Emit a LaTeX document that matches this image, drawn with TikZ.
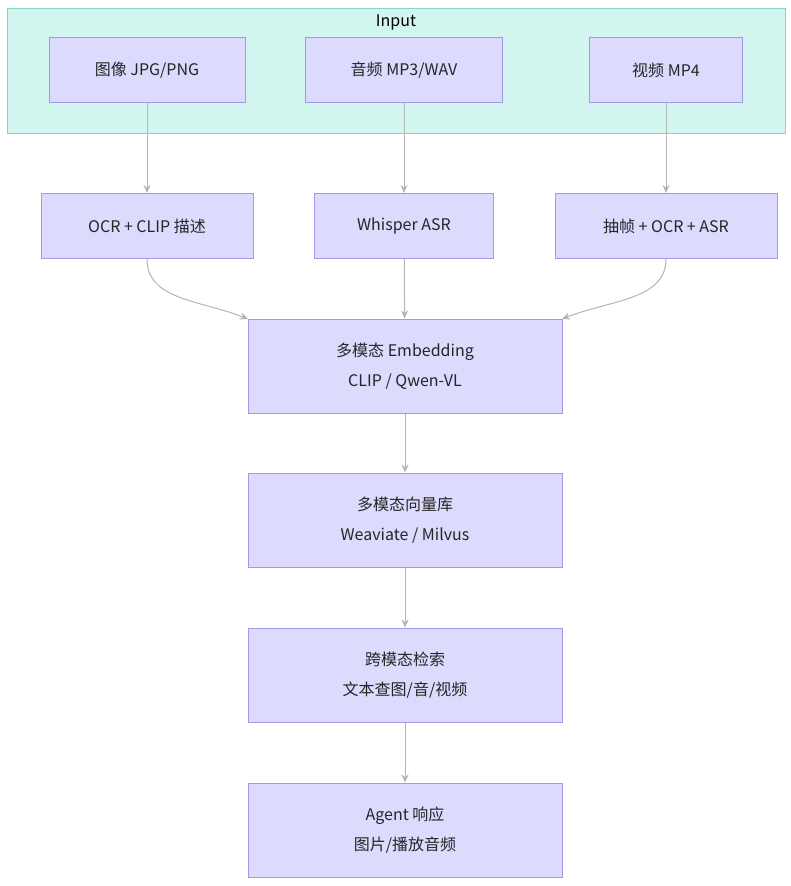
\documentclass[tikz,border=0pt]{standalone}
\usepackage{fontspec}
\setmainfont{Noto Sans CJK SC}
\usetikzlibrary{arrows.meta}
\definecolor{nfill}{HTML}{DCDAFD}
\definecolor{nline}{HTML}{A598EA}
\definecolor{gfill}{HTML}{D2F5EF}
\definecolor{gline}{HTML}{7FD8C6}
\definecolor{edge}{HTML}{B5B5B5}
\begin{document}
\begin{tikzpicture}[x=1pt,y=-1pt,
 box/.style={draw=nline,fill=nfill,line width=1pt,inner sep=0pt,align=center,font=\fontsize{16}{30}\selectfont,text=black!85},
 con/.style={draw=edge,line width=1pt,-{Stealth[length=8pt,width=7pt]}}]
\useasboundingbox (0,0) rectangle (791,886);
\fill[white] (0,0) rectangle (791,886);
\node[draw=gline,fill=gfill,line width=1pt,minimum width=778,minimum height=125,anchor=north west] (grp) at (7,8) {};
\node[font=\fontsize{16}{18}\selectfont] (lbl) at (396,22) {Input};
\node[box,minimum width=196,minimum height=65] (img) at (147,70) {图像 JPG/PNG};
\node[box,minimum width=197,minimum height=65] (aud) at (404,70) {音频 MP3/WAV};
\node[box,minimum width=153,minimum height=65] (vid) at (666,70) {视频 MP4};
\node[box,minimum width=212,minimum height=65] (ocr) at (147,226) {OCR + CLIP 描述};
\node[box,minimum width=179,minimum height=65] (wsp) at (404,226) {Whisper ASR};
\node[box,minimum width=222,minimum height=65] (frm) at (666,226) {抽帧 + OCR + ASR};
\node[box,minimum width=314,minimum height=94] (emb) at (405,366) {多模态 Embedding\\CLIP / Qwen-VL};
\node[box,minimum width=314,minimum height=94] (db) at (405,520) {多模态向量库\\Weaviate / Milvus};
\node[box,minimum width=314,minimum height=94] (srch) at (405,675) {跨模态检索\\文本查图/音/视频};
\node[box,minimum width=314,minimum height=94] (agt) at (405,830) {Agent 响应\\图片/播放音频};
\draw[con] (img) -- (ocr);
\draw[con] (aud) -- (wsp);
\draw[con] (vid) -- (frm);
\draw[con] (wsp) -- (emb);
\draw[con] (ocr.south) .. controls (147,300) and (200,300) .. (248,319);
\draw[con] (frm.south) .. controls (666,300) and (610,300) .. (562,319);
\draw[con] (emb) -- (db);
\draw[con] (db) -- (srch);
\draw[con] (srch) -- (agt);
\end{tikzpicture}
\end{document}
